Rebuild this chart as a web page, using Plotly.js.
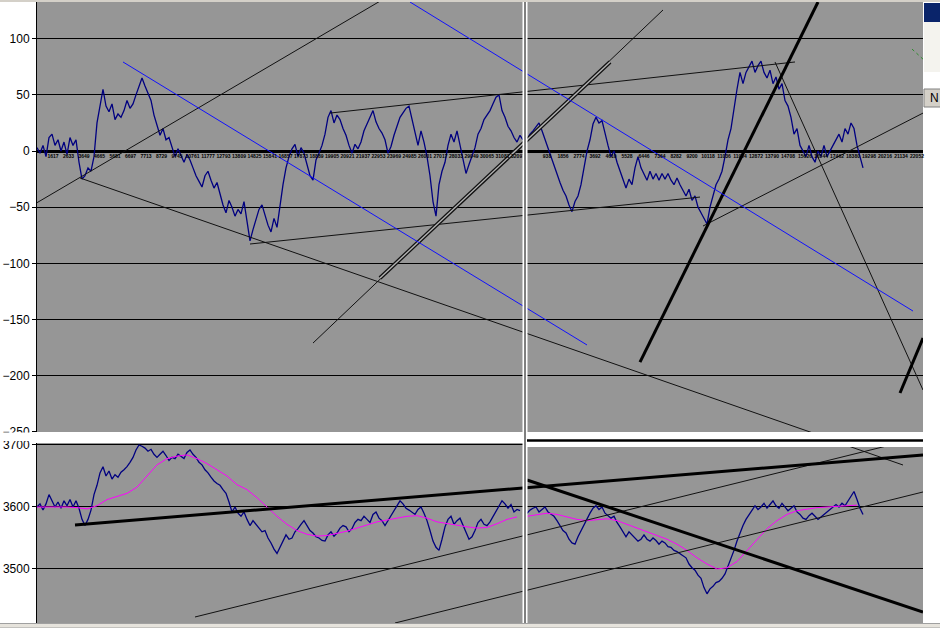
<!DOCTYPE html>
<html>
<head>
<meta charset="utf-8">
<script src="https://cdn.plot.ly/plotly-3.0.1.min.js"></script>
<style>html,body{margin:0;padding:0;background:#fff;}#chart{width:940px;height:628px;}</style>
</head>
<body>
<div id="chart"></div>
<script>
// ---------------- DATA ----------------
// bar index step for the series (one value every 3 bars), segments start bars
const STEP = 3;
const LEFT_START = 0;
const RIGHT_START = 490;
const MA_STEP = 10;

// Top panel: oscillator (left chart segment)
const topLeftValues = [3,-2,5,-5,12,15,5,10,0,8,-3,12,5,10,-10,-25,-22,-15,-18,-5,25,42,55,40,35,42,28,33,30,36,
45,38,42,50,57,65,58,52,45,32,22,14,20,10,12,3,-5,2,-4,-10,-3,-8,-15,-22,-27,-32,-22,-18,-26,-33,
-28,-38,-48,-55,-44,-50,-58,-52,-56,-45,-62,-80,-70,-60,-52,-48,-58,-66,-72,-60,-68,-48,-30,-15,-5,2,6,-5,3,-2,
-12,-22,-26,-8,-2,5,15,30,36,25,32,28,20,14,5,-2,6,2,8,18,24,30,36,26,20,16,10,-2,4,14,
22,30,34,38,40,28,15,5,18,8,-5,-22,-45,-58,-30,-18,-10,5,15,8,18,5,-8,-20,-12,-5,3,15,20,28,
32,36,42,48,50,36,30,22,18,12,8,14,10];
// Top panel: oscillator (right chart segment)
const topRightValues = [10,15,18,22,25,18,10,2,-5,-12,-20,-28,-35,-40,-48,-54,-45,-40,-30,-15,0,10,24,30,25,27,15,5,-5,0,
-10,-18,-25,-33,-25,-30,-15,-5,-15,-20,-26,-18,-25,-20,-26,-20,-25,-20,-26,-30,-24,-30,-35,-40,-34,-44,-40,-50,-55,-60,
-65,-50,-40,-30,-25,-18,-5,10,20,40,55,70,60,70,75,80,70,76,80,70,65,72,60,66,55,60,45,40,30,15,
20,5,0,-5,5,-5,-10,0,-5,5,-5,0,5,10,15,8,20,15,25,20,5,-5,-15];

// Bottom panel: price (left chart segment)
const bottomLeftValues = [3600,3605,3595,3605,3620,3610,3600,3608,3598,3610,3602,3612,3600,3610,3598,3580,3570,3580,3595,3620,
3635,3655,3665,3650,3658,3645,3652,3648,3656,3660,3665,3672,3680,3692,3700,3698,3695,3690,3693,3685,
3680,3685,3690,3683,3675,3680,3678,3685,3682,3678,3688,3692,3685,3680,3672,3668,3660,3655,3648,3642,
3638,3635,3628,3622,3608,3592,3600,3590,3585,3592,3580,3570,3578,3572,3565,3560,3562,3550,3542,3532,
3525,3535,3545,3555,3548,3550,3560,3565,3572,3578,3570,3562,3558,3552,3550,3546,3545,3555,3560,3553,
3558,3566,3570,3568,3560,3565,3575,3580,3578,3585,3580,3575,3588,3592,3582,3578,3570,3578,3585,3595,
3602,3610,3605,3598,3595,3592,3588,3596,3600,3590,3578,3562,3545,3535,3530,3548,3568,3580,3585,3572,
3578,3582,3570,3560,3548,3552,3562,3575,3580,3572,3570,3576,3585,3592,3602,3610,3605,3598,3604,3592,
3596,3594];
// Bottom panel: price (right chart segment)
const bottomRightValues = [3590,3595,3598,3600,3592,3596,3600,3592,3588,3585,3578,3570,3562,3558,3548,3542,3540,3552,3562,3572,
3580,3590,3598,3602,3596,3600,3590,3586,3582,3585,3575,3568,3560,3552,3560,3555,3550,3545,3548,3555,
3548,3545,3550,3546,3540,3545,3542,3536,3535,3530,3528,3525,3522,3518,3508,3502,3498,3490,3485,3470,
3460,3468,3472,3478,3480,3485,3492,3505,3515,3530,3545,3558,3570,3580,3588,3595,3602,3596,3600,3606,
3598,3604,3610,3602,3598,3606,3600,3594,3598,3602,3592,3588,3582,3580,3586,3590,3585,3580,3584,3588,
3592,3596,3600,3604,3600,3606,3602,3610,3618,3625,3612,3598,3588];

// Bottom panel: moving average (magenta)
const maLeftValues = [3600,3600,3601,3600,3599,3597,3602,3612,3617,3622,3632,3650,3668,3678,3682,3684,3678,3670,3660,3650,
3636,3628,3615,3600,3585,3572,3562,3556,3553,3554,3557,3561,3566,3571,3576,3579,3582,3585,3586,3582,
3576,3573,3570,3568,3566,3567,3573,3580,3584];
const maRightValues = [3585,3588,3590,3588,3584,3580,3578,3580,3581,3578,3572,3566,3560,3555,3548,3540,3530,3518,3508,3500,
3502,3512,3530,3548,3565,3578,3588,3594,3597,3599,3600,3601,3602,3603];

// Bar-number labels printed along the zero line
const leftTickBars = [16,31.5,47,62.5,78,93.5,109,124.5,140,155.5,171,186.5,202,217.5,233,248.5,264,279.5,295,310.5,
326,341.5,357,372.5,388,403.5,419,434.5,450,465.5,481];
const leftTickText = ["1617","2633","3649","4665","5681","6697","7713","8729","9745","10761","11777","12793","13809","14825","15841","16857",
"17873","18889","19905","20921","21937","22953","23969","24985","26001","27017","28033","29049","30065","31081","32097"];
const rightTickBars = [510,526,542,558,574,590,607,623,639,655,671,687,703,719,735,751,768,784,800,816,832,848,864,880];
const rightTickText = ["938","1856","2774","3692","4610","5528","6446","7364","8282","9200","10118","11036","11954","12872","13790",
"14708","15626","16544","17462","18380","19298","20216","21134","22052"];

// Trend lines: [bar0, value0, bar1, value1]
const topThinLines = [[-4,-48.1,345,134.5],[43,-24.0,868,-279.6],[213,-82.8,663,-41.0],[293,33.8,758,79.3],
[276,-171.0,626,125.6],[666,-66.8,886,33.8],[738,79.3,886,-212.8]];
const topThickLines = [[603,-187.9,781,132.7],[863,-215.5,886,-166.5]];
const topDoubleLines = [[343,-113.1,573,79.3]];
const topBlueLines = [[86,79.3,550,-172.7],[373,132.7,876,-142.5]];
const topGreenLines = [[875,90.8,887,81.0]];
const bottomThinLines = [[158,3422.6,886,3712.9],[358,3412.9,886,3624.2],[803,3703,866,3667.7]];
const bottomThickLines = [[38,3571,886,3683.9],[490,3643.5,886,3430.6]];

// ---------------- BUILD ----------------
function seq(start, step, n){ const a=[]; for(let i=0;i<n;i++) a.push(start+i*step); return a; }
const traces = [];
function series(vals, start, step, xa, ya, color, width){
  traces.push({type:'scatter', mode:'lines', x: seq(start, step, vals.length), y: vals,
    xaxis: xa, yaxis: ya, line:{color:color, width:width}, hoverinfo:'skip', showlegend:false});
}
series(topLeftValues, LEFT_START, STEP, 'x', 'y', '#000080', 1.3);
series(topRightValues, RIGHT_START, STEP, 'x', 'y', '#000080', 1.3);
series(bottomLeftValues, LEFT_START, STEP, 'x2', 'y2', '#000080', 1.3);
series(bottomRightValues, RIGHT_START, STEP, 'x2', 'y2', '#000080', 1.3);
series(maLeftValues, LEFT_START, MA_STEP, 'x2', 'y2', '#FF00FF', 1);
series(maRightValues, RIGHT_START, MA_STEP, 'x2', 'y2', '#FF00FF', 1);

function trend(list, xa, ya, color, width, dash){
  list.forEach(l => traces.push({type:'scatter', mode:'lines', x:[l[0], l[2]], y:[l[1], l[3]],
    xaxis: xa, yaxis: ya, line:{color:color, width:width, dash: dash || 'solid'}, hoverinfo:'skip', showlegend:false}));
}
trend(topThinLines, 'x', 'y', '#111111', 1);
trend(topDoubleLines, 'x', 'y', '#111111', 4);
trend(topDoubleLines, 'x', 'y', '#b4b4b4', 1.4);
trend(topThickLines, 'x', 'y', '#000000', 3);
trend(topBlueLines, 'x', 'y', '#1010ff', 1);
trend(topGreenLines, 'x', 'y', '#2e8b2e', 1, 'dot');
trend(bottomThinLines, 'x2', 'y2', '#111111', 1);
trend(bottomThickLines, 'x2', 'y2', '#000000', 3);

// ---------------- LAYOUT ----------------
const PH = 621; // plot height in px (628 - margins)
function py(p){ return (623 - p) / PH; } // pixel row -> paper fraction

const layout = {
  width: 940, height: 628,
  margin: {l:37, r:17, t:2, b:5, pad:0},
  paper_bgcolor: '#ffffff', plot_bgcolor: '#969696',
  showlegend: false,
  font: {family: 'Liberation Sans, Arial, sans-serif', color: '#000', size: 12},
  xaxis: {domain:[0,1], range:[0,886], anchor:'free', position: py(152), showgrid:false, zeroline:false,
    showline:false, ticks:'', tickmode:'array', tickvals: leftTickBars.concat(rightTickBars),
    ticktext: leftTickText.concat(rightTickText), tickangle:0,
    tickfont:{size:5, color:'#000', family:'Liberation Sans Narrow, Liberation Sans, sans-serif', weight:'bold'}},
  yaxis: {domain:[py(432), 1], range:[-250.2, 132.7], tickmode:'array', tickvals:[-250,-200,-150,-100,-50,0,50,100],
    showgrid:true, gridcolor:'#000', gridwidth:1, zeroline:true, zerolinecolor:'#000', zerolinewidth:3,
    showline:true, linecolor:'#000', linewidth:1, ticks:'outside', ticklen:4, tickcolor:'#000', tickfont:{size:12}},
  xaxis2: {domain:[0,1], range:[0,886], matches:'x', anchor:'y2', showgrid:false, zeroline:false, showline:false,
    showticklabels:false, ticks:''},
  yaxis2: {domain:[0, py(443)], range:[3412.9, 3703.2], tickmode:'array', tickvals:[3500,3600,3700],
    showgrid:true, gridcolor:'#000', gridwidth:1, zeroline:false,
    showline:true, linecolor:'#000', linewidth:1, ticks:'outside', ticklen:4, tickcolor:'#000', tickfont:{size:12}},
  shapes: [
    // seam between the two side-by-side charts
    {type:'line', xref:'x', yref:'paper', x0:488, x1:488, y0:-0.01, y1:1, line:{color:'#ffffff', width:5}, layer:'above'},
    {type:'line', xref:'x', yref:'paper', x0:488, x1:488, y0:-0.01, y1:1, line:{color:'#000000', width:1}, layer:'above'},
    // top band of the right lower chart
    {type:'rect', xref:'x', yref:'paper', x0:490, x1:890, y0:py(447), y1:py(432), fillcolor:'#ffffff', line:{width:0}, layer:'above'},
    {type:'line', xref:'x', yref:'paper', x0:490, x1:890, y0:py(440.5), y1:py(440.5), line:{color:'#000', width:2.5}, layer:'above'},
    // cut the bottom of the "-250" label
    {type:'rect', xref:'paper', yref:'paper', x0:-0.05, x1:-0.001, y0:py(441), y1:py(432.5), fillcolor:'#ffffff', line:{width:0}, layer:'above'},
    // window chrome at the top and bottom
    {type:'line', xref:'paper', yref:'paper', x0:-0.05, x1:1.02, y0:py(1), y1:py(1), line:{color:'#d4d0c8', width:2}, layer:'above'},
    {type:'rect', xref:'paper', yref:'paper', x0:-0.05, x1:1.02, y0:py(628), y1:py(623.5), fillcolor:'#e6e3dc', line:{color:'#a0a0a0', width:1}, layer:'above'},
    // right-hand window chrome
    {type:'rect', xref:'paper', yref:'paper', x0:1.0011, x1:1.03, y0:py(22), y1:py(3), fillcolor:'#0a246a', line:{width:0}, layer:'above'},
    {type:'rect', xref:'paper', yref:'paper', x0:1.0011, x1:1.03, y0:py(72), y1:py(22), fillcolor:'#f4f3ee', line:{width:0}, layer:'above'},
    {type:'rect', xref:'paper', yref:'paper', x0:1.0011, x1:1.03, y0:py(107), y1:py(89), fillcolor:'#d4d0c8', line:{color:'#808080', width:1}, layer:'above'}
  ],
  annotations: [
    {xref:'paper', yref:'paper', x:1.0125, y:py(98), xanchor:'center', yanchor:'middle', text:'N', showarrow:false, font:{size:12, color:'#000'}}
  ]
};

Plotly.newPlot('chart', traces, layout, {staticPlot:true, displayModeBar:false});
</script>
</body>
</html>
